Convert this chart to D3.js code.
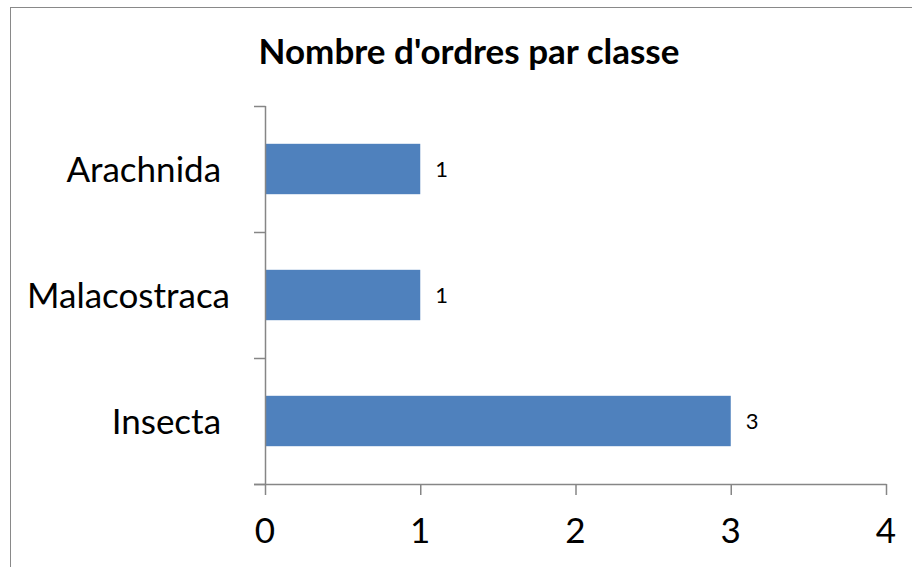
<!DOCTYPE html>
<html><head><meta charset="utf-8">
<script src="https://cdn.jsdelivr.net/npm/d3@7"></script>
<style>
html,body{margin:0;padding:0;background:#fff;}
svg{display:block;}
text{font-family:Lato,"Open Sans",sans-serif;white-space:pre;}
</style></head>
<body>
<svg id="chart" width="912" height="567"></svg>
<script>
const title = "Nombre d'ordres par classe";
const categories = ["Insecta ", "Malacostraca", "Arachnida "];
const values = [3, 1, 1];
const xTicks = [0, 1, 2, 3, 4];

const svg = d3.select("#chart");
const plot = {left: 265, right: 886, top: 106, bottom: 484};

svg.append("rect").attr("x", 10.5).attr("y", 7.5).attr("width", 1000).attr("height", 1000)
  .attr("fill", "#fff").attr("stroke", "#898989").attr("stroke-width", 1);

svg.append("text").attr("x", 469).attr("y", 64).attr("text-anchor", "middle")
  .attr("font-size", 35).attr("font-weight", "bold").attr("fill", "#000").text(title);

const x = d3.scaleLinear().domain([0, 4]).range([plot.left, plot.right]);
const y = d3.scaleBand().domain(categories.slice().reverse()).range([plot.top, plot.bottom]).paddingInner(0.6).paddingOuter(0.3);
const yOuter = d3.scaleBand().domain(categories.slice().reverse()).range([plot.top, plot.bottom]);

// bars
svg.append("g").selectAll("rect").data(categories).join("rect")
  .attr("x", x(0)).attr("y", d => y(d)).attr("width", (d, i) => x(values[i]) - x(0))
  .attr("height", y.bandwidth()).attr("fill", "#4F81BD");

// data labels
svg.append("g").selectAll("text").data(categories).join("text")
  .attr("x", (d, i) => x(values[i]) + 15).attr("y", d => y(d) + y.bandwidth() / 2)
  .attr("dy", "0.36em").attr("font-size", 22).attr("fill", "#000")
  .text((d, i) => values[i]);

const axisColor = "#868686";
// y axis
const gy = svg.append("g").attr("transform", `translate(${plot.left},0)`);
gy.append("line").attr("x1", 0.5).attr("x2", 0.5).attr("y1", plot.top).attr("y2", plot.bottom + 1)
  .attr("stroke", axisColor).attr("stroke-width", 1.5);
const yTickPos = categories.map(c => yOuter(c)).concat([plot.bottom]);
gy.selectAll("line.t").data(yTickPos).join("line").attr("class", "t")
  .attr("x1", -11).attr("x2", 0.5).attr("y1", d => d + 0.5).attr("y2", d => d + 0.5)
  .attr("stroke", axisColor).attr("stroke-width", 1.5);
gy.selectAll("text").data(categories).join("text")
  .attr("x", -35).attr("y", d => yOuter(d) + yOuter.bandwidth() / 2)
  .attr("dy", "0.36em").attr("text-anchor", "end").attr("font-size", 35).attr("fill", "#000")
  .text(d => d);

// x axis
const gx = svg.append("g");
gx.append("line").attr("x1", plot.left - 11).attr("x2", plot.right + 0.5).attr("y1", plot.bottom + 0.5).attr("y2", plot.bottom + 0.5)
  .attr("stroke", axisColor).attr("stroke-width", 1.5);
gx.selectAll("line.t").data(xTicks).join("line").attr("class", "t")
  .attr("x1", d => x(d) + 0.5).attr("x2", d => x(d) + 0.5).attr("y1", plot.bottom).attr("y2", plot.bottom + 11)
  .attr("stroke", axisColor).attr("stroke-width", 1.5);
gx.selectAll("text").data(xTicks).join("text")
  .attr("x", d => x(d)).attr("y", 543).attr("text-anchor", "middle")
  .attr("font-size", 35).attr("fill", "#000").text(d => d);
</script>
</body></html>
